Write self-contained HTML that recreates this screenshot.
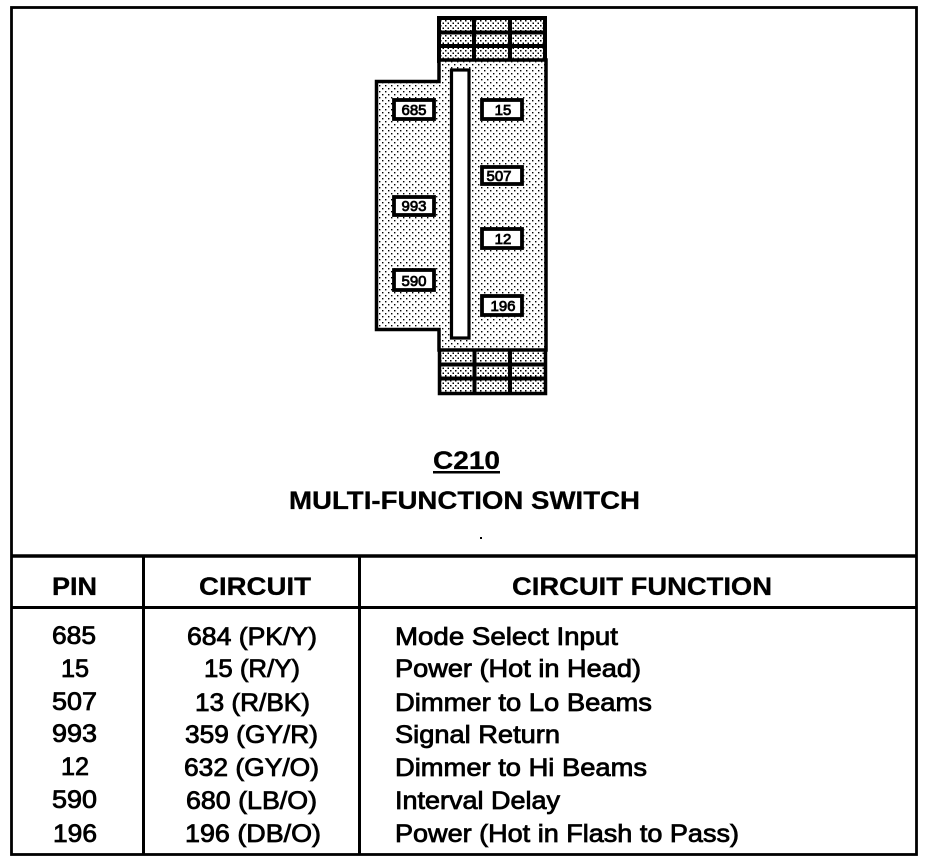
<!DOCTYPE html>
<html>
<head>
<meta charset="utf-8">
<style>
html,body{margin:0;padding:0;background:#fff;width:928px;height:862px;overflow:hidden}
svg{display:block}
text{font-family:"Liberation Sans",Arial,sans-serif;fill:#000;font-size:25px}
.h{font-weight:bold;font-size:25px;stroke:#000;stroke-width:.3px}
.r{stroke:#000;stroke-width:.8px}
.l{font-size:15px;stroke:#000;stroke-width:.8px}
</style>
</head>
<body>
<svg width="928" height="862" viewBox="0 0 928 862" xmlns="http://www.w3.org/2000/svg">
<defs>
<pattern id="d" width="6" height="6" patternUnits="userSpaceOnUse">
<rect width="6" height="6" fill="#fff"/>
<rect x="1" y="1" width="1.4" height="1.4" fill="#000"/>
<rect x="4" y="4" width="1.4" height="1.4" fill="#000"/>
</pattern>
<pattern id="e" width="5" height="5" patternUnits="userSpaceOnUse">
<rect width="5" height="5" fill="#fff"/>
<rect x="0" y="0" width="1.5" height="1.5" fill="#000"/>
<rect x="2.500" y="2.500" width="1.5" height="1.5" fill="#000"/>
</pattern>
</defs>
<rect width="928" height="862" fill="#fff"/>
<!-- outer frame -->
<rect x="11.500" y="7.500" width="905" height="847" fill="none" stroke="#000" stroke-width="2.800"/>
<!-- top and bottom blocks -->
<rect x="439" y="18" width="106" height="43" fill="url(#e)" stroke="#000" stroke-width="4"/>
<rect x="439.500" y="349.500" width="106" height="44" fill="url(#e)" stroke="#000" stroke-width="3.500"/>
<g stroke="#000" stroke-width="4" fill="none">
<path d="M438 32.500H546M438 46H546M474 17V61M510 17V61"/>
<path d="M438 364.500H546M438 378.500H546M474.500 349V394M510 349V394"/>
</g>
<!-- body -->
<path d="M439 60V81.500H376.500V329.500H439V350H546V60Z" fill="url(#d)" stroke="#000" stroke-width="3.500"/>
<rect x="451.500" y="70" width="17.500" height="268" fill="#fff" stroke="#000" stroke-width="3.200"/>
<!-- pin labels -->
<g fill="#fff" stroke="#000" stroke-width="3.800">
<rect x="394" y="100" width="40" height="19"/>
<rect x="482" y="100" width="40" height="19"/>
<rect x="482" y="167" width="40" height="17"/>
<rect x="394" y="197" width="40" height="18"/>
<rect x="482" y="229" width="40" height="19"/>
<rect x="394" y="270" width="40" height="20"/>
<rect x="482" y="296" width="40" height="19"/>
</g>
<g text-anchor="middle">
<text class="l" x="414" y="115">685</text>
<text class="l" x="503" y="115">15</text>
<text class="l" x="499" y="181">507</text>
<text class="l" x="414" y="211">993</text>
<text class="l" x="503" y="244">12</text>
<text class="l" x="414" y="286">590</text>
<text class="l" x="503" y="311">196</text>
</g>
<!-- titles -->
<text class="h" x="433" y="469" textLength="67" lengthAdjust="spacingAndGlyphs">C210</text>
<rect x="433" y="471" width="67" height="2.500" fill="#000"/>
<text class="h" x="289" y="509" textLength="351" lengthAdjust="spacingAndGlyphs">MULTI-FUNCTION SWITCH</text>
<rect x="480" y="537" width="2" height="2" fill="#000"/>
<!-- table lines -->
<g stroke="#000" fill="none">
<path d="M11 556H917" stroke-width="3.500"/>
<path d="M11 607.500H917" stroke-width="3"/>
<path d="M143.500 556V855M359.500 556V855" stroke-width="3"/>
</g>
<!-- headers -->
<text class="h" x="52" y="595" textLength="45" lengthAdjust="spacingAndGlyphs">PIN</text>
<text class="h" x="199" y="595" textLength="112" lengthAdjust="spacingAndGlyphs">CIRCUIT</text>
<text class="h" x="512" y="595" textLength="260" lengthAdjust="spacingAndGlyphs">CIRCUIT FUNCTION</text>
<!-- pins -->
<g class="r">
<text x="52" y="644" textLength="44" lengthAdjust="spacingAndGlyphs">685</text>
<text x="61" y="677" textLength="28" lengthAdjust="spacingAndGlyphs">15</text>
<text x="52" y="710" textLength="45" lengthAdjust="spacingAndGlyphs">507</text>
<text x="52" y="742" textLength="45" lengthAdjust="spacingAndGlyphs">993</text>
<text x="61" y="775" textLength="28" lengthAdjust="spacingAndGlyphs">12</text>
<text x="52" y="808" textLength="45" lengthAdjust="spacingAndGlyphs">590</text>
<text x="53" y="842" textLength="44" lengthAdjust="spacingAndGlyphs">196</text>
<!-- circuits -->
<text x="187" y="645" textLength="130" lengthAdjust="spacingAndGlyphs">684 (PK/Y)</text>
<text x="204" y="677" textLength="96" lengthAdjust="spacingAndGlyphs">15 (R/Y)</text>
<text x="195" y="711" textLength="115" lengthAdjust="spacingAndGlyphs">13 (R/BK)</text>
<text x="185" y="743" textLength="133" lengthAdjust="spacingAndGlyphs">359 (GY/R)</text>
<text x="184" y="776" textLength="135" lengthAdjust="spacingAndGlyphs">632 (GY/O)</text>
<text x="186" y="809" textLength="131" lengthAdjust="spacingAndGlyphs">680 (LB/O)</text>
<text x="185" y="842" textLength="136" lengthAdjust="spacingAndGlyphs">196 (DB/O)</text>
<!-- functions -->
<text x="395" y="645" textLength="223" lengthAdjust="spacingAndGlyphs">Mode Select Input</text>
<text x="395" y="677" textLength="246" lengthAdjust="spacingAndGlyphs">Power (Hot in Head)</text>
<text x="395" y="711" textLength="257" lengthAdjust="spacingAndGlyphs">Dimmer to Lo Beams</text>
<text x="395" y="743" textLength="165" lengthAdjust="spacingAndGlyphs">Signal Return</text>
<text x="395" y="776" textLength="252" lengthAdjust="spacingAndGlyphs">Dimmer to Hi Beams</text>
<text x="395" y="809" textLength="165" lengthAdjust="spacingAndGlyphs">Interval Delay</text>
<text x="395" y="842" textLength="344" lengthAdjust="spacingAndGlyphs">Power (Hot in Flash to Pass)</text>
</g>
</svg>
</body>
</html>
